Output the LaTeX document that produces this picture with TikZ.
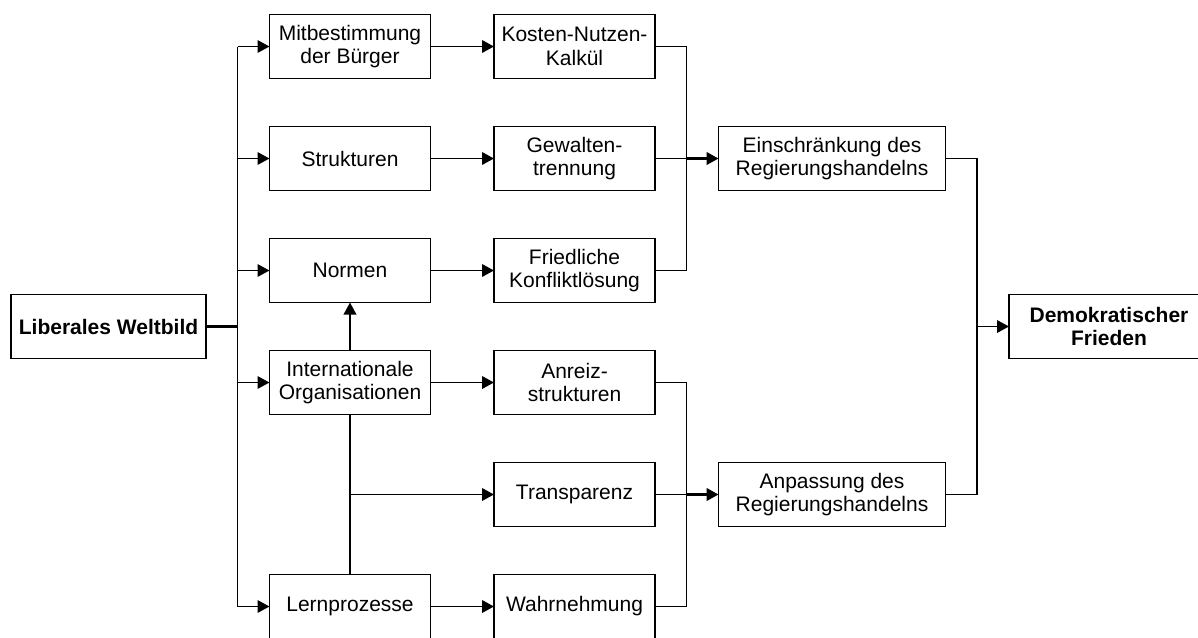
\documentclass[tikz,border=0pt]{standalone}
\usepackage{fontspec}
\setmainfont{Liberation Sans}
\usetikzlibrary{arrows.meta,positioning,calc}

\tikzset{
  box/.style={draw, rectangle, line width=1.9pt, minimum width=161pt, minimum height=64pt,
    inner sep=0pt, outer sep=0pt, align=center, font=\fontsize{21pt}{23.3pt}\selectfont},
  widebox/.style={box, minimum width=227pt},
  mainbox/.style={box, minimum width=200pt, font=\fontsize{21pt}{23.3pt}\selectfont\bfseries},
  heavy/.style={line width=2.6pt}
}

\begin{document}
\begin{tikzpicture}[x=1pt,y=-1pt,>={Triangle[length=12pt,width=12.5pt]},line width=1.9pt,node distance=48pt and 63.5pt]
        \clip (0,0) rectangle (1198,637);
        \useasboundingbox (0,0) rectangle (1198,637);

            \node[box]     (strukt)  at (350,158.5)         {Strukturen};
            \node[box]     (mitb)    [above=of strukt]      {Mitbestimmung\\der Bürger};
            \node[box]     (normen)  [below=of strukt]      {Normen};
            \node[box]     (intorg)  [below=of normen]      {Internationale\\Organisationen};
            \node[box]     (kost)    [right=of mitb]        {Kosten-Nutzen-\\Kalkül};
            \node[box]     (gewalt)  [right=of strukt]      {Gewalten-\\trennung};
            \node[box]     (fried)   [right=of normen]      {Friedliche\\Konfliktlösung};
            \node[box]     (anreiz)  [right=of intorg]      {Anreiz-\\strukturen};
            \node[box]     (transp)  [below=of anreiz]      {Transparenz};
            \node[box]     (wahrn)   [below=of transp]      {Wahrnehmung};
            \node[box]     (lern)    [left=of wahrn]        {Lernprozesse};
            \node[widebox] (einschr) [right=of gewalt]      {Einschränkung des\\Regierungshandelns};
            \node[widebox] (anpass)  [right=of transp]      {Anpassung des\\Regierungshandelns};
            \node[mainbox, minimum width=195pt] (lib)  [left=of $(normen.south west)!.5!(intorg.north west)$] {Liberales Weltbild};
            \node[mainbox] (dem)  [right=of $(einschr.east)!.5!(anpass.east)$] {Demokratischer\\Frieden};

            % Verzweigungen
            \coordinate (fork)  at ($(lib.east)+(31.5,0)$);
            \coordinate (joinA) at ($(kost.east)+(31.5,0)$);
            \coordinate (joinB) at ($(anreiz.east)+(31.5,0)$);
            \coordinate (joinC) at ($(einschr.east)+(31.5,0)$);

            \draw[heavy] (lib.east) -- (fork);
            \draw (fork |- mitb) -- (fork |- lern);
            \draw (kost.east) -- (joinA |- kost) -- (joinA |- fried) -- (fried.east);
            \draw (gewalt.east) -- (joinA |- gewalt);
            \draw (anreiz.east) -- (joinB |- anreiz) -- (joinB |- wahrn) -- (wahrn.east);
            \draw (transp.east) -- (joinB |- transp);
            \draw (einschr.east) -- (joinC |- einschr) -- (joinC |- anpass) -- (anpass.east);
            \draw (intorg) -- (lern);

            \path[->]
                (fork |- mitb) edge (mitb)
                (fork |- strukt) edge (strukt)
                (fork |- normen) edge (normen)
                (fork |- intorg) edge (intorg)
                (fork |- lern) edge (lern)
                (mitb) edge (kost)
                (strukt) edge (gewalt)
                (normen) edge (fried)
                (intorg) edge (anreiz)
                (intorg |- transp) edge (transp)
                (lern) edge (wahrn)
                (intorg) edge (normen)
                (joinA |- einschr) edge [heavy] (einschr)
                (joinB |- anpass) edge [heavy] (anpass)
                (joinC |- dem) edge (dem)
                ;
        \end{tikzpicture}
\end{document}
